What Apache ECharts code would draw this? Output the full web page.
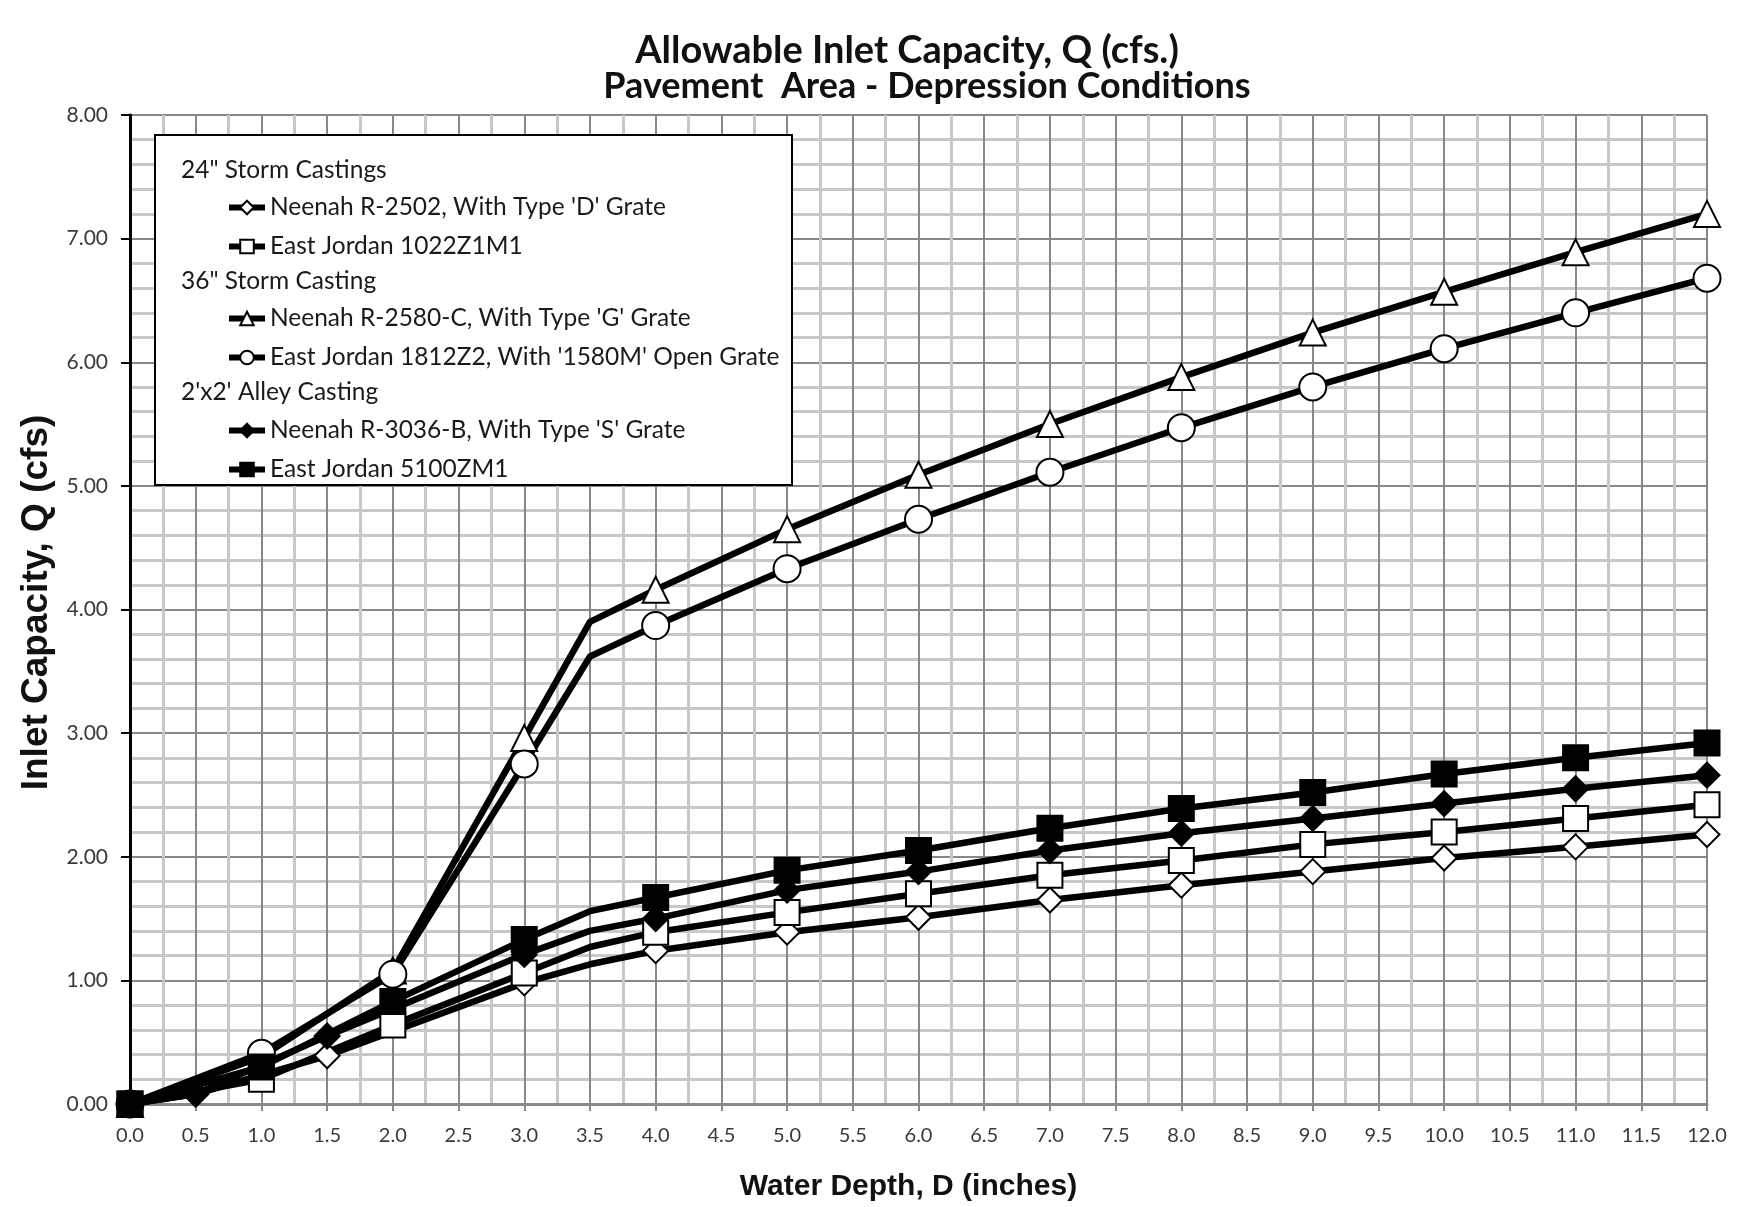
<!DOCTYPE html>
<html>
<head>
<meta charset="utf-8">
<script src="https://cdn.jsdelivr.net/npm/echarts@6/dist/echarts.min.js"></script>
<style>
html,body{margin:0;padding:0;background:#fff;}
#chart{width:1737px;height:1207px;}
</style>
</head>
<body>
<div id="chart"></div>
<script>
// Water depth (inches) for each group of series
const depthNeenahSmall = [0, 0.5, 1.5, 3, 3.5, 4, 5, 6, 7, 8, 9, 10, 11, 12];
const depthOther = [0, 1, 2, 3, 3.5, 4, 5, 6, 7, 8, 9, 10, 11, 12];
const unmarkedDepth = 3.5;

// Inlet capacity Q (cfs)
const qNeenahR2502 = [0, 0.08, 0.39, 0.98, 1.13, 1.24, 1.39, 1.51, 1.65, 1.77, 1.88, 1.99, 2.08, 2.18];
const qEJ1022Z1M1 = [0, 0.20, 0.64, 1.06, 1.27, 1.39, 1.55, 1.70, 1.85, 1.97, 2.10, 2.20, 2.31, 2.42];
const qNeenahR2580C = [0, 0.38, 1.08, 2.96, 3.90, 4.16, 4.65, 5.09, 5.50, 5.88, 6.24, 6.57, 6.89, 7.20];
const qEJ1812Z2 = [0, 0.41, 1.05, 2.75, 3.62, 3.87, 4.33, 4.73, 5.11, 5.47, 5.80, 6.11, 6.40, 6.68];
const qNeenahR3036B = [0, 0.08, 0.55, 1.21, 1.40, 1.50, 1.73, 1.88, 2.05, 2.19, 2.31, 2.43, 2.55, 2.66];
const qEJ5100ZM1 = [0, 0.30, 0.83, 1.33, 1.56, 1.67, 1.89, 2.05, 2.23, 2.39, 2.52, 2.67, 2.80, 2.92];

const seriesNames = [
  "Neenah R-2502, With Type 'D' Grate",
  "East Jordan 1022Z1M1",
  "Neenah R-2580-C, With Type 'G' Grate",
  "East Jordan 1812Z2, With '1580M' Open Grate",
  "Neenah R-3036-B, With Type 'S' Grate",
  "East Jordan 5100ZM1"
];
const groupHeaders = ['24" Storm Castings', '36" Storm Casting', "2'x2' Alley Casting"];

const titleText = "Allowable Inlet Capacity, Q (cfs.)";
const subtitleText = "Pavement  Area - Depression Conditions";
const xTitle = "Water Depth, D (inches)";
const yTitle = "Inlet Capacity, Q (cfs)";

function pairs(depth, q) {
  return depth.map((d, i) => d === unmarkedDepth ? {value: [d, q[i]], symbol: 'none'} : [d, q[i]]);
}

function mkSeries(name, depth, q, symbol, size, fill) {
  return {
    name: name,
    type: 'line',
    data: pairs(depth, q),
    symbol: symbol,
    symbolSize: size,
    showAllSymbol: true,
    lineStyle: {color: '#000', width: 6.5},
    itemStyle: {color: fill, borderColor: '#000', borderWidth: 2},
    emphasis: {disabled: true},
    z: 2
  };
}

const chart = echarts.init(document.getElementById('chart'), null, {renderer: 'canvas'});

const legendFont = {fontFamily: 'Lato, "Noto Sans", sans-serif', fontSize: 24.5, color: '#1a1a1a', lineHeight: 24};

function mkLegend(names, top) {
  return {
    data: names,
    orient: 'vertical',
    left: 226,
    top: top,
    padding: 0,
    itemGap: 14,
    itemWidth: 36,
    itemHeight: 17,
    textStyle: legendFont,
    lineStyle: {width: 6, color: '#000'},
    selectedMode: false,
    z: 6
  };
}

const titleStyle1 = {fontFamily: 'Lato, sans-serif', fontWeight: 'bold', fontSize: 38, color: '#111'};
const titleStyle2 = {fontFamily: 'Lato, sans-serif', fontWeight: 'bold', fontSize: 36, color: '#111'};

const option = {
  animation: false,
  backgroundColor: '#fff',
  title: [
    {text: titleText, left: 902, top: 27, textAlign: 'center', textStyle: titleStyle1},
    {text: subtitleText, left: 922, top: 63, textAlign: 'center', textStyle: titleStyle2}
  ],
  grid: {left: 130, right: 30, top: 115, bottom: 100, containLabel: false},
  xAxis: {
    type: 'value', min: 0, max: 12, interval: 0.5,
    name: xTitle, nameLocation: 'middle', nameGap: 68,
    nameTextStyle: {fontFamily: '"Liberation Sans", Arial, sans-serif', fontWeight: 'bold', fontSize: 30, color: '#111', padding: [0, 20, 0, 0]},
    axisLine: {show: true, onZero: false, lineStyle: {color: '#8a8a8a', width: 3}},
    axisTick: {show: true, length: 7, lineStyle: {color: '#8a8a8a', width: 2}},
    axisLabel: {margin: 22, formatter: v => v.toFixed(1),
      fontFamily: 'Lato, sans-serif', fontSize: 20, color: '#3a3a3a'},
    splitLine: {show: true, lineStyle: {color: '#888', width: 2}},
    minorTick: {show: false, splitNumber: 2},
    minorSplitLine: {show: true, lineStyle: {color: '#c8c8c8', width: 3}}
  },
  yAxis: {
    type: 'value', min: 0, max: 8, interval: 1,
    name: yTitle, nameLocation: 'middle', nameGap: 74, nameRotate: 90,
    nameTextStyle: {fontFamily: '"Liberation Sans", Arial, sans-serif', fontWeight: 'bold', fontSize: 37, color: '#111', padding: [0, 0, 0, 14]},
    axisLine: {show: true, lineStyle: {color: '#000', width: 3}},
    axisTick: {show: true, length: 9, lineStyle: {color: '#000', width: 2}},
    axisLabel: {margin: 22, formatter: v => v.toFixed(2),
      fontFamily: 'Lato, sans-serif', fontSize: 21, color: '#3a3a3a'},
    splitLine: {show: true, lineStyle: {color: '#888', width: 2}},
    minorTick: {show: false, splitNumber: 5},
    minorSplitLine: {show: true, lineStyle: {color: '#c8c8c8', width: 3}}
  },
  legend: [
    mkLegend([seriesNames[0], seriesNames[1]], 195),
    mkLegend([seriesNames[2], seriesNames[3]], 306),
    mkLegend([seriesNames[4], seriesNames[5]], 418)
  ],
  graphic: [
    {type: 'rect', shape: {x: 155, y: 135, width: 637, height: 350},
     style: {fill: '#fff', stroke: '#000', lineWidth: 2}, z: 5},
    {type: 'text', x: 181, y: 170, z: 7,
     style: {text: groupHeaders[0], fill: '#1a1a1a', font: '24.5px Lato, sans-serif', verticalAlign: 'middle'}},
    {type: 'text', x: 181, y: 281, z: 7,
     style: {text: groupHeaders[1], fill: '#1a1a1a', font: '24.5px Lato, sans-serif', verticalAlign: 'middle'}},
    {type: 'text', x: 181, y: 392, z: 7,
     style: {text: groupHeaders[2], fill: '#1a1a1a', font: '24.5px Lato, sans-serif', verticalAlign: 'middle'}}
  ],
  series: [
    mkSeries(seriesNames[0], depthNeenahSmall, qNeenahR2502, 'diamond', 25, '#fff'),
    mkSeries(seriesNames[1], depthOther, qEJ1022Z1M1, 'rect', 25, '#fff'),
    mkSeries(seriesNames[2], depthOther, qNeenahR2580C, 'triangle', 26, '#fff'),
    mkSeries(seriesNames[3], depthOther, qEJ1812Z2, 'circle', 27, '#fff'),
    mkSeries(seriesNames[4], depthNeenahSmall, qNeenahR3036B, 'diamond', 25, '#000'),
    mkSeries(seriesNames[5], depthOther, qEJ5100ZM1, 'rect', 25, '#000')
  ]
};
chart.setOption(option);
</script>
</body>
</html>
